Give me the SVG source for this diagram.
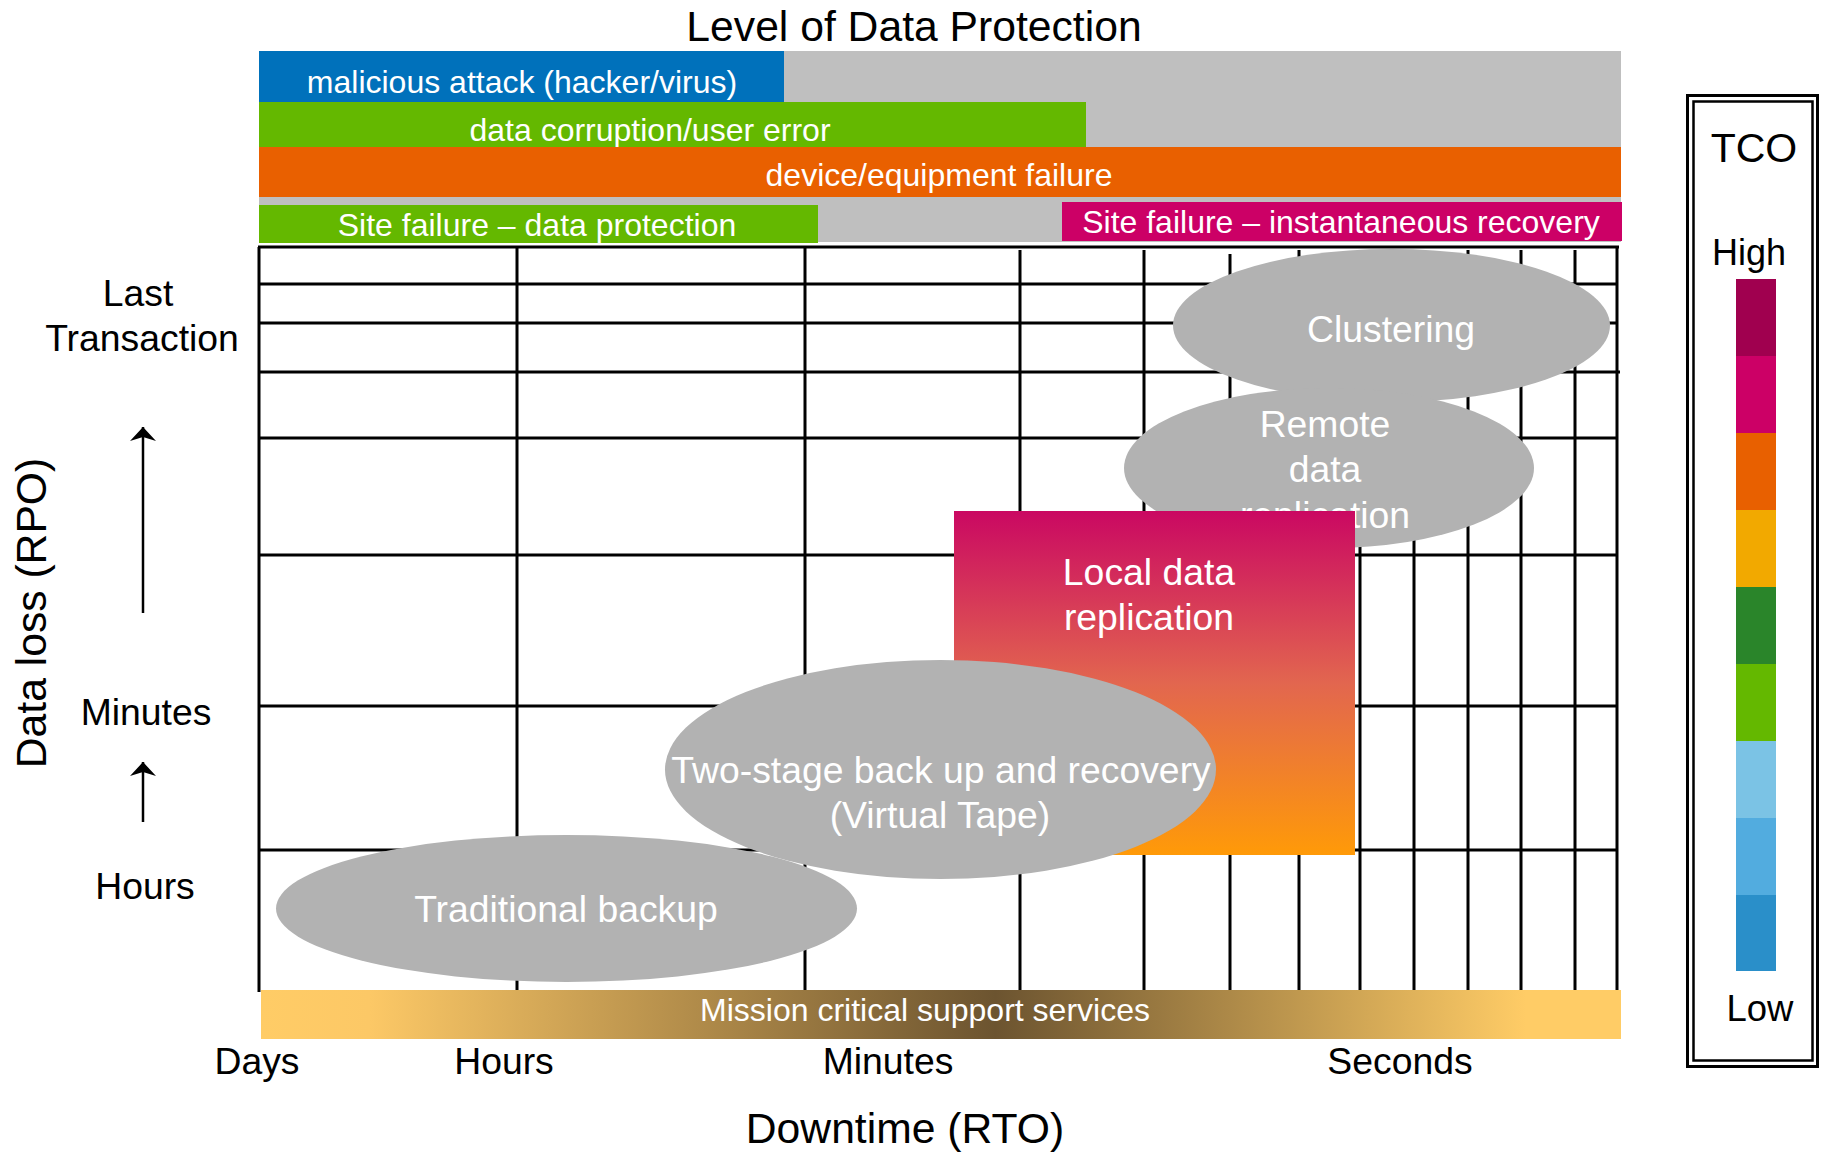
<svg xmlns="http://www.w3.org/2000/svg" width="1828" height="1154" viewBox="0 0 1828 1154">
<style>
text{font-family:"Liberation Sans",Arial,sans-serif}
.w{fill:#fff}
.k{fill:#000}
.c{text-anchor:middle}
.f32{font-size:32px}
.f37{font-size:37.33px}
.f42{font-size:42.67px}
.ell{fill:#b2b2b2}
.gl{stroke:#000;stroke-width:3;fill:none}
</style>
<defs>
<linearGradient id="gLocal" x1="0" y1="0" x2="0" y2="1">
<stop offset="0" stop-color="#ca0862"/>
<stop offset="0.5" stop-color="#e2664f"/>
<stop offset="1" stop-color="#ff9a08"/>
</linearGradient>
<linearGradient id="gMission" x1="0" y1="0" x2="1" y2="0">
<stop offset="0" stop-color="#ffcc66"/>
<stop offset="0.08" stop-color="#fcc866"/>
<stop offset="0.54" stop-color="#6c5430"/>
<stop offset="0.93" stop-color="#ffcc66"/>
<stop offset="1" stop-color="#ffcc66"/>
</linearGradient>
<marker id="ah" markerUnits="userSpaceOnUse" viewBox="0 0 14 26" markerWidth="14" markerHeight="26" refX="14" refY="13" orient="auto">
<path d="M14,13 L0,0 L4,13 L0,26 Z" fill="#000"/>
</marker>
</defs>
<rect width="1828" height="1154" fill="#fff"/>

<text class="k c f42" x="914" y="41">Level of Data Protection</text>

<g id="threat-bars">
<rect x="259" y="51" width="1362" height="191" fill="#bfbfbf"/>
<g id="bar-malicious"><rect x="259" y="51" width="525" height="51" fill="#0071bb"/><text class="w c f32" x="522" y="93">malicious attack (hacker/virus)</text></g>
<g id="bar-corruption"><rect x="259" y="102" width="827" height="45" fill="#64b800"/><text class="w c f32" x="650" y="141">data corruption/user error</text></g>
<g id="bar-device"><rect x="259" y="147" width="1362" height="50" fill="#e96000"/><text class="w c f32" x="939" y="186">device/equipment failure</text></g>
<g id="bar-site-dp"><rect x="259" y="205" width="559" height="38" fill="#64b800"/><text class="w c f32" x="537" y="236">Site failure – data protection</text></g>
<g id="bar-site-ir"><rect x="1062" y="202" width="560" height="39" fill="#cc0066"/><text class="w c f32" x="1341" y="233">Site failure – instantaneous recovery</text></g>
</g>

<g id="grid" class="gl">
<line x1="258" y1="247" x2="1619" y2="247"/>
<line x1="259" y1="284" x2="1618" y2="284"/>
<line x1="259" y1="323" x2="1618" y2="323"/>
<line x1="259" y1="372" x2="1620" y2="372"/>
<line x1="259" y1="438" x2="1618" y2="438"/>
<line x1="259" y1="555" x2="1618" y2="555"/>
<line x1="259" y1="706" x2="1618" y2="706"/>
<line x1="259" y1="850" x2="1618" y2="850"/>
<line x1="259" y1="247" x2="259" y2="992"/>
<line x1="517" y1="247" x2="517" y2="990"/>
<line x1="805" y1="247" x2="805" y2="990"/>
<line x1="1020" y1="250" x2="1020" y2="990"/>
<line x1="1144" y1="250" x2="1144" y2="990"/>
<line x1="1230" y1="254" x2="1230" y2="990"/>
<line x1="1299" y1="250" x2="1299" y2="990"/>
<line x1="1360" y1="250" x2="1360" y2="990"/>
<line x1="1414" y1="250" x2="1414" y2="990"/>
<line x1="1468" y1="250" x2="1468" y2="990"/>
<line x1="1521" y1="250" x2="1521" y2="990"/>
<line x1="1575" y1="250" x2="1575" y2="990"/>
<line x1="1617" y1="247" x2="1617" y2="990"/>
</g>

<g id="node-clustering">
<ellipse class="ell" cx="1391.5" cy="325.5" rx="218.5" ry="76.5"/>
<text class="w c f37" x="1391" y="342">Clustering</text>
</g>
<g id="node-remote">
<ellipse class="ell" cx="1329" cy="468" rx="205" ry="80"/>
<text class="w c f37" x="1325" y="437">Remote</text>
<text class="w c f37" x="1325" y="482">data</text>
<text class="w c f37" x="1325" y="528">replication</text>
</g>
<g id="node-local">
<rect x="954" y="511" width="401" height="344" fill="url(#gLocal)"/>
<text class="w c f37" x="1149" y="585">Local data</text>
<text class="w c f37" x="1149" y="630">replication</text>
</g>
<g id="node-twostage">
<ellipse class="ell" cx="940.5" cy="769.5" rx="275.5" ry="109.5"/>
<text class="w c f37" x="941" y="783">Two-stage back up and recovery</text>
<text class="w c f37" x="940" y="828">(Virtual Tape)</text>
</g>
<g id="node-traditional">
<ellipse class="ell" cx="566.5" cy="908.5" rx="290.5" ry="73.5"/>
<text class="w c f37" x="566" y="922">Traditional backup</text>
</g>

<g id="mission-bar">
<rect x="261" y="990" width="1360" height="49" fill="url(#gMission)"/>
<text class="w c f32" x="925" y="1021">Mission critical support services</text>
</g>

<g id="y-axis-labels">
<text class="k c f37" x="138" y="306">Last</text>
<text class="k c f37" x="142" y="351">Transaction</text>
<text class="k c f37" x="146" y="725">Minutes</text>
<text class="k c f37" x="145" y="899">Hours</text>
<text class="k c f42" transform="translate(46,613) rotate(-90)" x="0" y="0">Data loss (RPO)</text>
</g>

<g id="connectors" stroke="#000" stroke-width="2.5" fill="none">
<line x1="143" y1="613" x2="143" y2="427" marker-end="url(#ah)"/>
<line x1="143" y1="822" x2="143" y2="762" marker-end="url(#ah)"/>
</g>

<g id="x-axis-labels">
<text class="k c f37" x="257" y="1074">Days</text>
<text class="k c f37" x="504" y="1074">Hours</text>
<text class="k c f37" x="888" y="1074">Minutes</text>
<text class="k c f37" x="1400" y="1074">Seconds</text>
<text class="k c f42" x="905" y="1143">Downtime (RTO)</text>
</g>

<g id="legend-tco">
<rect x="1687.5" y="95.5" width="130" height="971" fill="#fff" stroke="#000" stroke-width="3"/>
<rect x="1693.5" y="101.5" width="119" height="959" fill="#fff" stroke="#000" stroke-width="2.5"/>
<text class="k c" style="font-size:41px" x="1754" y="162">TCO</text>
<text class="k c" style="font-size:36px" x="1749" y="265">High</text>
<rect x="1736" y="279" width="40" height="77" fill="#a0004f"/>
<rect x="1736" y="356" width="40" height="77" fill="#cc0066"/>
<rect x="1736" y="433" width="40" height="77" fill="#e86000"/>
<rect x="1736" y="510" width="40" height="77" fill="#f2a900"/>
<rect x="1736" y="587" width="40" height="77" fill="#2a852a"/>
<rect x="1736" y="664" width="40" height="77" fill="#64b800"/>
<rect x="1736" y="741" width="40" height="77" fill="#7bc3e5"/>
<rect x="1736" y="818" width="40" height="77" fill="#52acdf"/>
<rect x="1736" y="895" width="40" height="76" fill="#2a8fc9"/>
<text class="k c" style="font-size:36.5px" x="1760" y="1021">Low</text>
</g>
</svg>
